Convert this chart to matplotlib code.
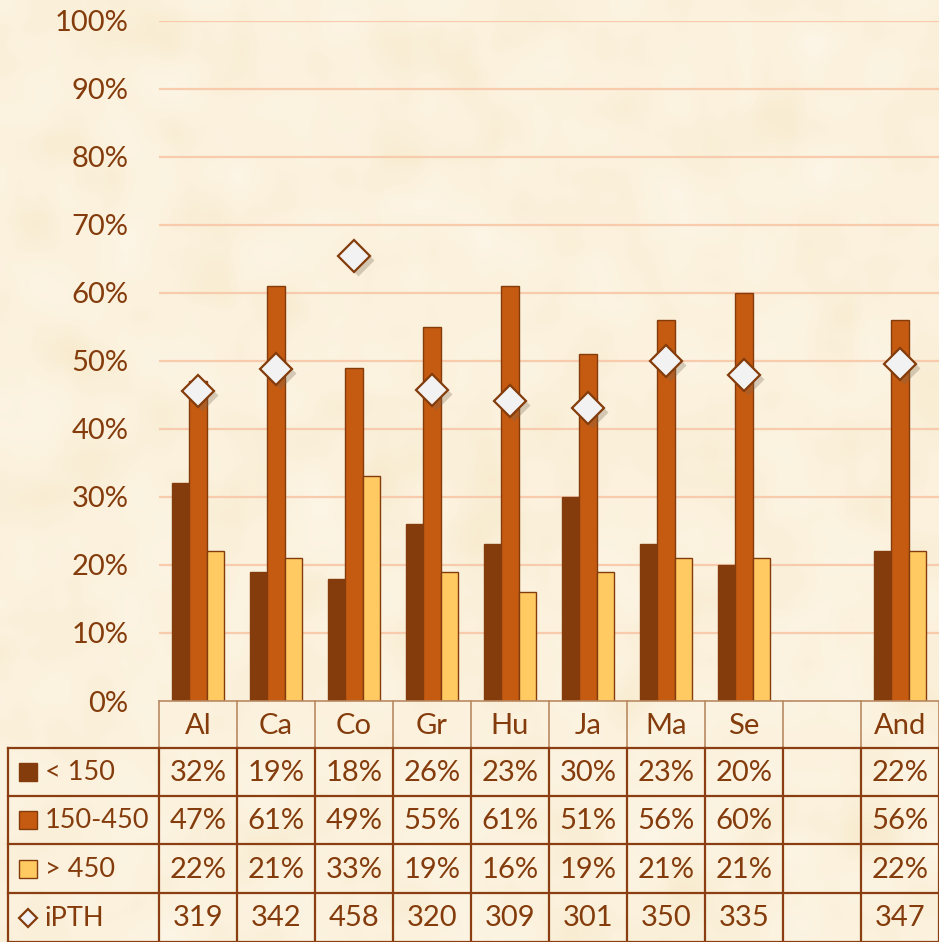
import numpy as np
import matplotlib.pyplot as plt
from matplotlib import transforms
from matplotlib.colors import LinearSegmentedColormap
from matplotlib.patches import Rectangle

plt.rcParams['font.family'] = ['Lato', 'DejaVu Sans']

# data
cats = ["Al", "Ca", "Co", "Gr", "Hu", "Ja", "Ma", "Se", "", "And"]
lt150 = [32, 19, 18, 26, 23, 30, 23, 20, np.nan, 22]
mid = [47, 61, 49, 55, 61, 51, 56, 60, np.nan, 56]
gt450 = [22, 21, 33, 19, 16, 19, 21, 21, np.nan, 22]
ipth = [319, 342, 458, 320, 309, 301, 350, 335, np.nan, 347]
series_names = ["< 150", "150-450", "> 450", "iPTH"]

TXT = '#843C0C'
C1, C2, C3 = '#843C0C', '#C55A11', '#FFCA62'
EDGE = '#843C0C'
GRID = '#F8CBAD'
HEAD_LINE = '#B98A62'
BODY_LINE = '#8B3E12'

W, H = 939, 942
fig = plt.figure(figsize=(W / 100, H / 100), dpi=100)

# parchment background (smoothed texture, edges cropped away)
bg = fig.add_axes([0, 0, 1, 1], zorder=-10)
rng = np.random.default_rng(7)
noise = rng.random((92, 92))
k = np.ones(4) / 4
noise = np.apply_along_axis(lambda r: np.convolve(r, k, mode='same'), 0, noise)
noise = np.apply_along_axis(lambda r: np.convolve(r, k, mode='same'), 1, noise)
noise = noise[6:-6, 6:-6]
paper = LinearSegmentedColormap.from_list('paper', ['#F7E9CB', '#FBF1DC', '#FDF6E8'])
bg.imshow(noise, cmap=paper, aspect='auto', interpolation='bicubic',
          extent=[0, 1, 0, 1])
bg.axis('off')

# chart area
ax = fig.add_axes([159 / W, (H - 701) / H, 780 / W, (701 - 20.5) / H])
ax.patch.set_alpha(0)
x = np.arange(len(cats))
w = 0.225
ax.bar(x - w, lt150, w, color=C1, edgecolor=EDGE, lw=1, zorder=3)
ax.bar(x, mid, w, color=C2, edgecolor=EDGE, lw=1, zorder=3)
ax.bar(x + w, gt450, w, color=C3, edgecolor=EDGE, lw=1, zorder=3)
for v in range(10, 101, 10):
    ax.axhline(v, color=GRID, lw=1.6, zorder=1)
ax.set_xlim(-0.5, 9.5)
ax.set_ylim(0, 100)
ax.set_xticks([])
ax.set_yticks(range(0, 101, 10))
ax.set_yticklabels([f"{v}%" for v in range(0, 101, 10)], fontsize=21, color=TXT)
ax.tick_params(axis='y', length=0, pad=22)
for s in ax.spines.values():
    s.set_visible(False)

# iPTH on hidden secondary axis
ax2 = ax.twinx()
ax2.set_ylim(0, 700)
ax2.axis('off')
shadow = transforms.offset_copy(ax2.transData, fig=fig, x=4, y=-4, units='dots')
ax2.plot(x, ipth, 'D', ms=16, mfc='#7A6A55', mec='none', alpha=0.3,
         transform=shadow, zorder=4)
ax2.plot(x, ipth, 'D', ms=16, mfc='#F2F2F2', mec=EDGE, mew=1.6, zorder=5)

# data table
tab = fig.add_axes([0, 0, 1, 1], zorder=5)
tab.set_xlim(0, W)
tab.set_ylim(H, 0)
tab.axis('off')
tab.patch.set_alpha(0)

cw = 78
xe = [159 + cw * i for i in range(len(cats) + 1)]
rows = [748, 796, 844, 893, 942]

tab.plot([159, W], [701, 701], color=HEAD_LINE, lw=1.2)
for xx in xe:
    tab.plot([xx, xx], [701, 748], color=HEAD_LINE, lw=1.2)
for yy in rows:
    tab.plot([8, W], [yy, yy], color=BODY_LINE, lw=1.6)
for xx in [8] + xe:
    tab.plot([xx, xx], [748, 945], color=BODY_LINE, lw=1.6)

fs = 21
for i, c in enumerate(cats):
    tab.text(xe[i] + cw / 2, 726, c, ha='center', va='center', fontsize=fs, color=TXT)
values = [lt150, mid, gt450]
for r, vals in enumerate(values):
    yc = (rows[r] + rows[r + 1]) / 2 + 1
    for i, v in enumerate(vals):
        if not np.isnan(v):
            tab.text(xe[i] + cw / 2, yc, f"{v:.0f}%", ha='center', va='center',
                     fontsize=fs, color=TXT)
yc = (rows[3] + rows[4]) / 2 + 1
for i, v in enumerate(ipth):
    if not np.isnan(v):
        tab.text(xe[i] + cw / 2, yc, f"{v:.0f}", ha='center', va='center',
                 fontsize=fs, color=TXT)

# legend keys in the first column
for r, col in enumerate([C1, C2, C3]):
    yc = (rows[r] + rows[r + 1]) / 2
    tab.add_patch(Rectangle((19, yc - 9), 18, 18, facecolor=col, edgecolor=EDGE, lw=1))
for r, name in enumerate(series_names):
    yc = (rows[r] + rows[r + 1]) / 2 + 1
    tab.text(45, yc, name, ha='left', va='center', fontsize=19.5, color=TXT)
tab.plot([28], [(rows[3] + rows[4]) / 2], 'D', ms=9, mfc='#F2F2F2', mec=EDGE, mew=1.6)

fig.savefig('out.png', dpi=100)
